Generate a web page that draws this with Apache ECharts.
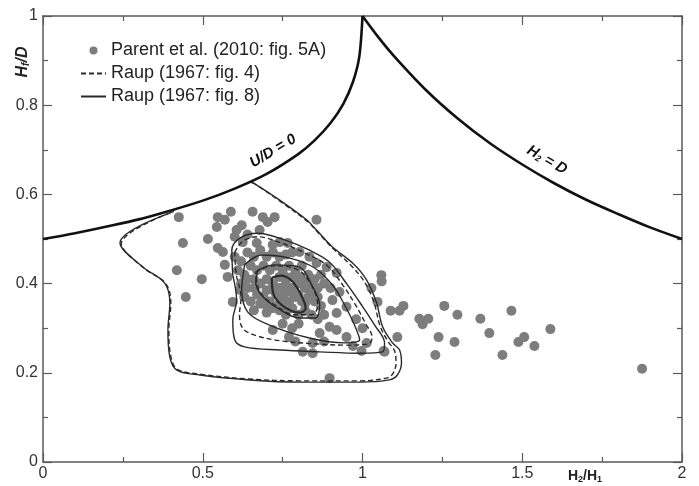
<!DOCTYPE html>
<html>
<head>
<meta charset="utf-8">
<script src="https://cdn.jsdelivr.net/npm/echarts@6/dist/echarts.min.js"></script>
<style>html,body{margin:0;padding:0;background:#fff;}#c{width:699px;height:486px;}</style>
</head>
<body>
<div id="c"></div>
<script>
// ---- data ----
var xTicks = [0, 0.5, 1, 1.5, 2];
var yTicks = [0, 0.2, 0.4, 0.6, 0.8, 1];

// boundary U/D = 0 (left) and H2 = D (right)
var boundaryUD = [[0,0.5],[0.1,0.513],[0.2,0.528],[0.3,0.544],[0.4,0.564],[0.5,0.586],[0.6,0.613],[0.7,0.646],[0.8,0.691],[0.85,0.721],[0.9,0.760],[0.94,0.803],[0.97,0.852],[0.99,0.909],[1.0,1.0]];
var boundaryH2 = [[1.0,1.0],[1.05,0.952],[1.1,0.909],[1.2,0.833],[1.3,0.769],[1.4,0.714],[1.5,0.667],[1.6,0.625],[1.7,0.588],[1.8,0.556],[1.9,0.526],[2.0,0.5]];

// Raup (1967: fig. 8) solid contours
var fig8Outer = [[0.647,0.628],[0.669,0.621],[0.741,0.587],[0.825,0.543],[0.856,0.520],[0.906,0.482],[0.969,0.446],[1.013,0.408],[1.044,0.357],[1.063,0.303],[1.094,0.267],[1.116,0.251],[1.122,0.222],[1.109,0.195],[1.084,0.184],[0.991,0.179],[0.803,0.179],[0.647,0.184],[0.491,0.195],[0.419,0.206],[0.397,0.235],[0.391,0.296],[0.397,0.356],[0.381,0.401],[0.313,0.437],[0.241,0.491],[0.406,0.561]];
var fig8Level2 = [[0.594,0.419],[0.591,0.475],[0.616,0.502],[0.672,0.513],[0.756,0.498],[0.834,0.475],[0.897,0.448],[0.953,0.397],[0.997,0.352],[1.038,0.307],[1.069,0.267],[1.063,0.247],[0.991,0.244],[0.866,0.247],[0.741,0.251],[0.631,0.258],[0.600,0.274],[0.594,0.318],[0.606,0.363],[0.594,0.419]];
var fig8Level3 = [[0.631,0.442],[0.684,0.464],[0.772,0.457],[0.850,0.435],[0.906,0.397],[0.944,0.352],[0.975,0.307],[0.991,0.274],[0.944,0.267],[0.834,0.278],[0.709,0.307],[0.641,0.336],[0.622,0.386],[0.631,0.442]];
var fig8Level4 = [[0.672,0.430],[0.725,0.442],[0.803,0.437],[0.841,0.397],[0.866,0.352],[0.853,0.323],[0.803,0.323],[0.734,0.345],[0.684,0.374],[0.666,0.403],[0.672,0.430]];
var fig8Level5 = [[0.716,0.413],[0.745,0.418],[0.776,0.408],[0.803,0.381],[0.822,0.345],[0.805,0.335],[0.780,0.338],[0.747,0.352],[0.722,0.375],[0.716,0.413]];

// Raup (1967: fig. 4) dashed contours
var fig4Outer = [[0.655,0.627],[0.675,0.618],[0.745,0.583],[0.830,0.538],[0.860,0.515],[0.910,0.477],[0.965,0.440],[1.005,0.405],[1.035,0.360],[1.055,0.305],[1.080,0.270],[1.100,0.250],[1.105,0.222],[1.095,0.198],[1.075,0.188],[0.990,0.182],[0.800,0.182],[0.647,0.186],[0.490,0.197],[0.420,0.208],[0.400,0.237],[0.394,0.296],[0.400,0.356],[0.384,0.400],[0.315,0.435],[0.245,0.489],[0.410,0.562]];
var fig4Level2 = [[0.600,0.470],[0.625,0.495],[0.670,0.505],[0.750,0.490],[0.830,0.465],[0.890,0.440],[0.940,0.395],[0.980,0.350],[1.010,0.310],[1.030,0.280],[1.020,0.265],[0.950,0.262],[0.850,0.265],[0.740,0.272],[0.660,0.285],[0.625,0.300],[0.615,0.330],[0.620,0.370],[0.605,0.420],[0.600,0.470]];
var fig4Level4 = [[0.665,0.425],[0.720,0.440],[0.800,0.430],[0.845,0.390],[0.860,0.350],[0.840,0.330],[0.790,0.330],[0.730,0.350],[0.680,0.380],[0.665,0.425]];

// Parent et al. (2010: fig. 5A)
var parentPoints = [
[0.425,0.549],[0.547,0.549],[0.569,0.543],[0.588,0.561],[0.544,0.527],[0.606,0.520],[0.622,0.531],[0.656,0.561],[0.688,0.549],[0.703,0.538],[0.725,0.549],[0.678,0.520],[0.856,0.543],[0.516,0.500],[0.438,0.491],[0.625,0.493],[0.669,0.491],[0.719,0.487],[0.741,0.493],[0.766,0.491],[0.547,0.480],[0.563,0.471],[0.600,0.505],[0.640,0.510],
[0.569,0.442],[0.578,0.415],[0.594,0.359],[0.419,0.430],[0.447,0.370],[0.497,0.410],[0.600,0.460],[0.620,0.450],[0.640,0.470],[0.660,0.460],[0.680,0.475],[0.700,0.460],[0.720,0.470],[0.740,0.460],[0.760,0.465],[0.780,0.470],[0.803,0.471],[0.834,0.460],[0.856,0.446],[0.888,0.437],[0.919,0.424],
[0.610,0.430],[0.630,0.420],[0.650,0.440],[0.670,0.430],[0.690,0.440],[0.710,0.430],[0.730,0.440],[0.750,0.430],[0.770,0.440],[0.790,0.430],[0.810,0.440],[0.830,0.420],[0.850,0.410],[0.870,0.420],
[0.616,0.386],[0.620,0.400],[0.640,0.390],[0.660,0.410],[0.680,0.400],[0.700,0.410],[0.720,0.400],[0.740,0.390],[0.760,0.400],[0.780,0.390],[0.800,0.400],[0.820,0.390],[0.840,0.380],[0.860,0.390],[0.880,0.400],[0.900,0.390],
[0.630,0.370],[0.650,0.360],[0.670,0.375],[0.690,0.370],[0.710,0.360],[0.730,0.375],[0.750,0.370],[0.770,0.360],[0.790,0.370],[0.810,0.360],[0.830,0.370],[0.850,0.360],[0.870,0.350],[0.906,0.363],[0.928,0.381],[0.950,0.348],
[0.660,0.340],[0.700,0.335],[0.740,0.340],[0.760,0.330],[0.780,0.345],[0.800,0.330],[0.820,0.340],[0.840,0.330],[0.860,0.320],[0.880,0.330],[0.919,0.334],[0.897,0.303],[0.919,0.296],
[0.719,0.296],[0.750,0.310],[0.780,0.300],[0.800,0.310],[0.866,0.289],[0.844,0.267],[0.813,0.247],[0.844,0.244],[0.897,0.188],[0.770,0.280],[0.790,0.270],[0.880,0.270],[0.950,0.280],[0.970,0.260],[1.013,0.267],[1.069,0.247],[0.980,0.320],[1.000,0.300],
[0.700,0.385],[0.720,0.385],[0.740,0.415],[0.760,0.415],[0.780,0.415],[0.800,0.415],[0.760,0.380],[0.780,0.380],[0.800,0.375],[0.720,0.345],[0.740,0.355],[0.680,0.355],[0.660,0.390],[0.640,0.410],[0.820,0.410],[0.840,0.400],[0.860,0.370],[0.820,0.355],[0.700,0.350],[0.760,0.350],
[1.059,0.419],[1.060,0.405],[1.028,0.390],[1.047,0.359],[1.088,0.339],[1.116,0.339],[1.128,0.350],[1.178,0.321],[1.206,0.321],[1.188,0.309],[1.256,0.350],[1.297,0.330],[1.369,0.321],[1.466,0.339],[1.588,0.298],[1.397,0.289],[1.488,0.269],[1.506,0.280],[1.538,0.260],[1.238,0.280],[1.288,0.269],[1.109,0.280],[1.228,0.240],[1.438,0.240],[1.875,0.209],[1.066,0.249],[0.997,0.249]
];

var legendNames = ['Parent et al. (2010: fig. 5A)', 'Raup (1967: fig. 4)', 'Raup (1967: fig. 8)'];

// ---- chart ----
var chart = echarts.init(document.getElementById('c'));
var axisColor = '#5a5a5a';
var fontFam = '"Liberation Sans", Arial, sans-serif';

function xAx(pos, showLabel) {
  return {
    type: 'value', position: pos, min: 0, max: 2, interval: 0.5,
    axisLine: {show: true, onZero: false, lineStyle: {color: axisColor, width: 1.5}},
    axisTick: {show: true, inside: true, length: 9, lineStyle: {color: axisColor, width: 1.2}},
    minorTick: {show: true, splitNumber: 2, length: 5, lineStyle: {color: axisColor, width: 1.2}},
    splitLine: {show: false},
    axisLabel: {show: showLabel, color: '#333', fontSize: 16, fontFamily: fontFam, margin: 4,
      formatter: function (v) { return xTicks.indexOf(v) >= 0 ? String(v) : ''; }}
  };
}
function yAx(pos, showLabel) {
  return {
    type: 'value', position: pos, min: 0, max: 1, interval: 0.2,
    axisLine: {show: true, onZero: false, lineStyle: {color: axisColor, width: 1.5}},
    axisTick: {show: true, inside: true, length: 9, lineStyle: {color: axisColor, width: 1.2}},
    minorTick: {show: true, splitNumber: 2, length: 5, lineStyle: {color: axisColor, width: 1.2}},
    splitLine: {show: false},
    axisLabel: {show: showLabel, color: '#333', fontSize: 16, fontFamily: fontFam, margin: 5,
      formatter: function (v) { return yTicks.indexOf(v) >= 0 ? String(v) : ''; }}
  };
}

function contour(name, data, dashed, width) {
  return {
    name: name, type: 'line', data: data, smooth: 0.35, symbol: 'none', showSymbol: false,
    lineStyle: {color: '#2a2a2a', width: width || 1.4, type: dashed ? [5, 3] : 'solid'},
    itemStyle: {color: 'rgba(0,0,0,0)', borderWidth: 0}, z: 3, silent: true
  };
}

var option = {
  backgroundColor: '#ffffff',
  animation: false,
  grid: {left: 43, right: 17, top: 16, bottom: 24},
  xAxis: [xAx('bottom', true), xAx('top', false)],
  yAxis: [yAx('left', true), yAx('right', false)],
  legend: {
    data: legendNames, orient: 'vertical', left: 75, top: 36, itemGap: 4,
    itemWidth: 25, itemHeight: 8, selectedMode: false,
    textStyle: {color: '#222', fontSize: 18, lineHeight: 19, fontFamily: fontFam}
  },
  series: [
    {name: 'boundaryUD', type: 'line', data: boundaryUD, smooth: 0.3, symbol: 'none',
     lineStyle: {color: '#111', width: 2.6}, z: 4, silent: true},
    {name: 'boundaryH2', type: 'line', data: boundaryH2, smooth: 0.3, symbol: 'none',
     lineStyle: {color: '#111', width: 2.6}, z: 4, silent: true},
    {name: legendNames[0], type: 'scatter', data: parentPoints, symbol: 'circle', symbolSize: 10,
     itemStyle: {color: '#7d7d7d', opacity: 1}, z: 2},
    contour(legendNames[1], fig4Outer, true),
    contour(legendNames[1], fig4Level2, true),
    contour(legendNames[1], fig4Level4, true),
    contour(legendNames[2], fig8Outer, false),
    contour(legendNames[2], fig8Level2, false),
    contour(legendNames[2], fig8Level3, false),
    contour(legendNames[2], fig8Level4, false),
    contour(legendNames[2], fig8Level5, false, 2.2)
  ],
  graphic: [
    {type: 'text', x: 23, y: 62, rotation: Math.PI / 2, style: {
      text: '{a|H}{b|f}{a|/D}', align: 'center', verticalAlign: 'middle',
      rich: {a: {fontSize: 16, fontWeight: 'bold', fontStyle: 'italic', fill: '#222', fontFamily: fontFam},
             b: {fontSize: 10, fontWeight: 'bold', fontStyle: 'italic', fill: '#222', fontFamily: fontFam, verticalAlign: 'bottom', padding: [6, 0, 0, 0]}}}},
    {type: 'text', x: 585, y: 476, style: {
      text: '{a|H}{b|2}{a|/H}{b|1}', align: 'center', verticalAlign: 'middle',
      rich: {a: {fontSize: 14, fontWeight: 'bold', fill: '#222', fontFamily: fontFam},
             b: {fontSize: 9, fontWeight: 'bold', fill: '#222', fontFamily: fontFam, padding: [7, 0, 0, 0]}}}},
    {type: 'text', x: 273, y: 151, rotation: 0.54, style: {
      text: 'U/D = 0', align: 'center', verticalAlign: 'middle',
      font: 'italic bold 15px "Liberation Sans", Arial, sans-serif', fill: '#111'}},
    {type: 'text', x: 547, y: 160, rotation: -0.52, style: {
      text: '{a|H}{b|2}{a| = D}', align: 'center', verticalAlign: 'middle',
      rich: {a: {fontSize: 15, fontWeight: 'bold', fontStyle: 'italic', fill: '#111', fontFamily: fontFam},
             b: {fontSize: 9, fontWeight: 'bold', fontStyle: 'italic', fill: '#111', fontFamily: fontFam, padding: [7, 0, 0, 0]}}}}
  ]
};
chart.setOption(option);
</script>
</body>
</html>
